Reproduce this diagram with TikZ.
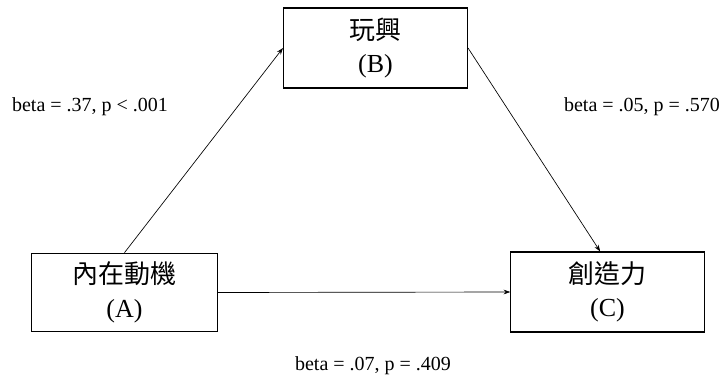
\documentclass[tikz,border=0pt]{standalone}
\usepackage{fontspec}
\setmainfont{Liberation Serif}
\newfontfamily\cjk{Noto Sans CJK TC}
\usetikzlibrary{arrows.meta}
\begin{document}
\begin{tikzpicture}[x=0.75pt,y=-0.75pt,
  box/.style={draw, line width=0.8pt, rectangle, align=center, inner sep=0pt,
    font=\fontsize{19.5pt}{25pt}\selectfont},
  conn/.style={line width=0.5pt, -{Stealth[length=5pt,width=3.5pt]}},
  lbl/.style={font=\fontsize{15pt}{18pt}\selectfont, inner sep=0pt}]
\useasboundingbox (0,0) rectangle (724,382);
\node[box, minimum width=138pt, minimum height=60pt] (B) at (375.5,48) {{\cjk 玩興}\\(B)};
\node[box, minimum width=139pt, minimum height=59pt] (A) at (124.5,292.5) {{\cjk 內在動機}\\(A)};
\node[box, minimum width=145pt, minimum height=60pt] (C) at (607.5,292) {{\cjk 創造力}\\(C)};
\coordinate (Cin) at ([xshift=-5.5pt]C.north);
\draw[conn] (A.north) -- (B.west);
\draw[conn] (B.east) -- (Cin);
\draw[conn] (A.east) -- (C.west);
\node[lbl] (l1) at (90,107) {beta = .37, p < .001};
\node[lbl] (l2) at (642,107) {beta = .05, p = .570};
\node[lbl] (l3) at (373,366) {beta = .07, p = .409};
\end{tikzpicture}
\end{document}
